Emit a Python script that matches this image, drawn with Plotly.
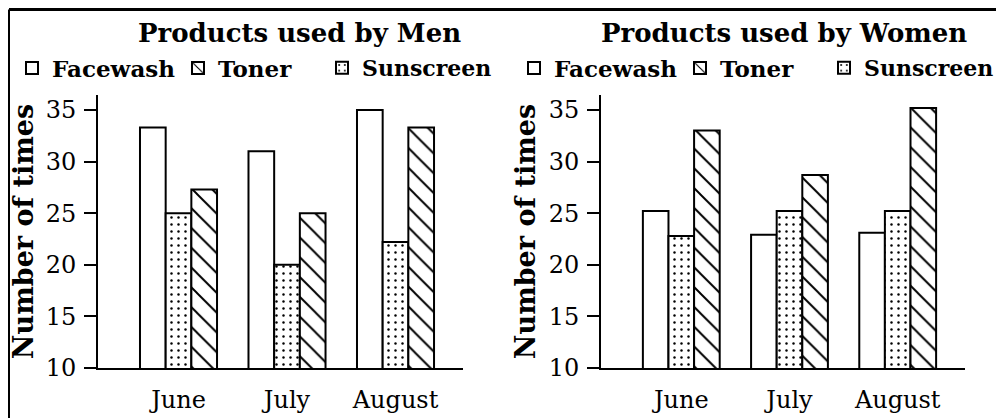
import plotly.graph_objects as go

months = ["June", "July", "August"]
products = ["Facewash", "Sunscreen", "Toner"]
men = {
    "Facewash": [33.3, 31.0, 35.0],
    "Sunscreen": [25.0, 20.0, 22.2],
    "Toner": [27.3, 25.0, 33.3],
}
women = {
    "Facewash": [25.2, 22.9, 23.1],
    "Sunscreen": [22.8, 25.2, 25.2],
    "Toner": [33.0, 28.7, 35.2],
}
yticks = [10, 15, 20, 25, 30, 35]
titles = ["Products used by Men", "Products used by Women"]
ytitle = "Number of times"

# page is offset by the 8px body margin, so the figure is drawn 8px smaller
OFF = 8
W, H = 1004 - OFF, 418 - OFF
FONT = "DejaVu Serif"


def px(x):
    return (x - OFF) / W


def py(y):
    return 1 - (y - OFF) / H


patterns = {"Facewash": "", "Sunscreen": ".", "Toner": "\\"}
pat_size = {"Facewash": 8, "Sunscreen": 7, "Toner": 14}
pat_sol = {"Facewash": 0.2, "Sunscreen": 0.1, "Toner": 0.14}
rank = {"Facewash": 1, "Toner": 2, "Sunscreen": 3}
legend_x = {"Facewash": 12, "Toner": 178, "Sunscreen": 322}
legend_fs = {"Facewash": 23, "Toner": 23, "Sunscreen": 22}

fig = go.Figure()
legends = {}
n = 0
for i, data in enumerate([men, women]):
    ax = "" if i == 0 else "2"
    for p in products:
        n += 1
        lid = "legend" if n == 1 else "legend%d" % n
        fig.add_trace(go.Bar(
            x=months, y=data[p], name=p,
            xaxis="x" + ax, yaxis="y" + ax,
            legend=lid, legendrank=rank[p],
            marker=dict(color="white", line=dict(color="black", width=2),
                        pattern=dict(shape=patterns[p], fgcolor="black", bgcolor="white",
                                     size=pat_size[p], solidity=pat_sol[p], fillmode="replace")),
        ))
        legends[lid] = dict(
            orientation="h", x=px(legend_x[p] + 502 * i), xanchor="left",
            y=py(68), yanchor="middle",
            font=dict(family=FONT, size=legend_fs[p], weight="bold", color="black"),
            bgcolor="rgba(0,0,0,0)", borderwidth=0,
            itemclick=False, itemdoubleclick=False)

xdom = [[px(98), px(463)], [px(601), px(965)]]
ydom = [py(368), py(95)]
axfont = dict(family=FONT, size=24, color="black")
for i in range(2):
    ax = "" if i == 0 else str(i + 1)
    fig.update_layout(**{
        "xaxis" + ax: dict(domain=xdom[i], range=[-0.742, 2.622], type="category",
                           showline=True, linecolor="black", linewidth=2, ticks="",
                           tickfont=axfont, showgrid=False, zeroline=False, automargin=False,
                           ticklabelstandoff=9, anchor="y" + ax, fixedrange=True),
        "yaxis" + ax: dict(domain=ydom, range=[10, 36.45], tickvals=yticks,
                           showline=True, linecolor="black", linewidth=2,
                           ticks="outside", ticklen=12, tickwidth=2, tickcolor="black",
                           tickfont=axfont, showgrid=False, zeroline=False, automargin=False,
                           ticklabelstandoff=3, anchor="x" + ax,
                           title=dict(text=ytitle, font=dict(family=FONT, size=27, weight="bold", color="black"),
                                      standoff=5)),
    })
fig.update_layout(**legends)

for i, t in enumerate(titles):
    cx = [299, 783.5][i]
    fig.add_annotation(text=t, x=px(cx), y=py(33), xref="paper", yref="paper",
                       xanchor="center", yanchor="middle", showarrow=False,
                       font=dict(family=FONT, size=26, weight="bold", color="black"))

# frame lines of the picture
fig.add_shape(type="line", xref="paper", yref="paper", x0=px(9), x1=1, y0=py(9.5), y1=py(9.5),
              line=dict(color="black", width=3))
fig.add_shape(type="line", xref="paper", yref="paper", x0=px(9), x1=px(9), y0=0, y1=py(9.5),
              line=dict(color="black", width=2))

fig.update_layout(width=W, height=H, margin=dict(l=0, r=0, t=0, b=0, autoexpand=False),
                  paper_bgcolor="white", plot_bgcolor="white",
                  barmode="group", bargap=0.29, bargroupgap=0, showlegend=True,
                  font=dict(family=FONT, color="black"))
fig.write_html("out.html", config={"displayModeBar": False})
